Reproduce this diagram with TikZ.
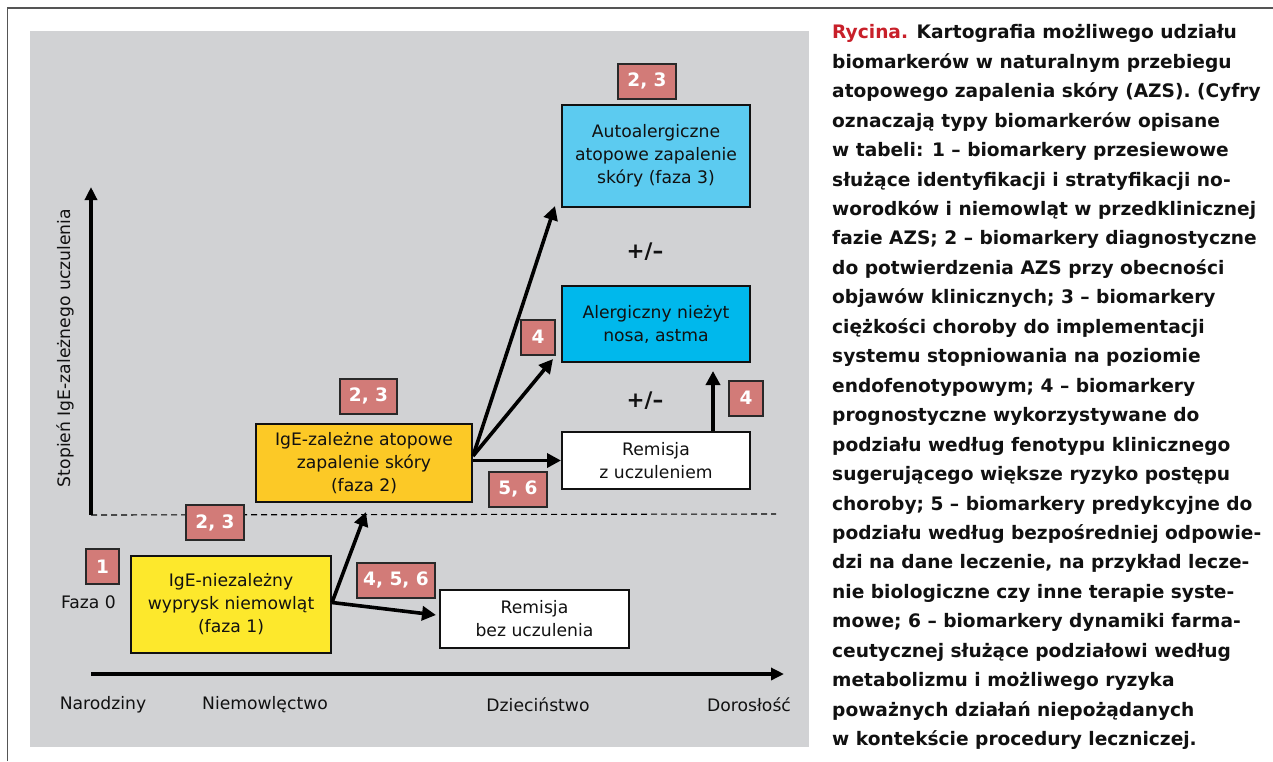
\documentclass[tikz,border=0pt]{standalone}
\usepackage{fontspec}
\setmainfont{DejaVu Sans}
\usetikzlibrary{arrows.meta,calc}
\definecolor{panel}{HTML}{D1D2D4}
\definecolor{yel}{HTML}{FDE82C}
\definecolor{ora}{HTML}{FCC926}
\definecolor{lblue}{HTML}{5CCBF0}
\definecolor{dblue}{HTML}{00B8EC}
\definecolor{badgec}{HTML}{D27B78}
\definecolor{redcap}{HTML}{C8202A}
\definecolor{framec}{HTML}{555555}
\definecolor{ink}{HTML}{111111}
\tikzset{
  box/.style={draw=ink, line width=2pt, align=center, inner sep=0pt,
    font=\fontsize{17.2}{23}\selectfont, text=ink},
  badge/.style={draw=ink!90, line width=2pt, fill=badgec, inner sep=0pt,
    text=white, font=\bfseries\fontsize{18.5}{20}\selectfont, minimum height=35pt},
  arr/.style={draw=black, line width=3.6pt,
    -{Triangle[length=14pt,width=14pt]}, shorten >=0pt},
  axis/.style={draw=black, line width=3.6pt, -{Triangle[length=13pt,width=12pt]}},
  lab/.style={font=\fontsize{17.2}{20}\selectfont, text=ink, inner sep=0pt},
  pm/.style={font=\bfseries\fontsize{21.5}{22}\selectfont, text=ink, inner sep=0pt}
}
\begin{document}
\begin{tikzpicture}[x=1pt,y=-1pt]
\useasboundingbox (0,0) rectangle (1273,761);
% frame
\draw[framec, line width=1.2pt] (7.5,761) -- (7.5,8) -- (1273,8);
% panel
\fill[panel] (30,31) rectangle (809,747);

% axes
\coordinate (origin) at (91,515);
\coordinate (ytip) at (91,187);
\coordinate (xorig) at (91,674);
\coordinate (xtip) at (784,674);
\coordinate (dashend) at (776,514);
\draw[black, line width=1.1pt, dash pattern=on 6pt off 4pt] (origin) -- (dashend);
\draw[axis] (origin) -- (ytip);
\draw[axis] (xorig) -- (xtip);

\node[lab, rotate=90] (ylab) at (65,348) {Stopień IgE-zależnego uczulenia};
\node[lab] (t0) at (103,705) {Narodziny};
\node[lab] (t1) at (265,705) {Niemowlęctwo};
\node[lab] (t2) at (538,705) {Dzieciństwo};
\node[lab] (t3) at (749,705) {Dorosłość};
\node[lab] (faza0) at (88.5,602) {Faza 0};

% boxes
\node[box, fill=yel, minimum width=200pt, minimum height=97pt] (f1) at (231,604.5)
  {IgE-niezależny\\wyprysk niemowląt\\(faza 1)};
\node[box, fill=ora, minimum width=216pt, minimum height=78pt] (f2) at (364,463)
  {IgE-zależne atopowe\\zapalenie skóry\\(faza 2)};
\node[box, fill=white, minimum width=189pt, minimum height=58pt] (rb) at (534.5,619)
  {Remisja\\bez uczulenia};
\node[box, fill=white, minimum width=188pt, minimum height=57pt] (rz) at (656,460.5)
  {Remisja\\z uczuleniem};
\node[box, fill=lblue, minimum width=188pt, minimum height=102pt] (f3) at (656,156)
  {Autoalergiczne\\atopowe zapalenie\\skóry (faza 3)};
\node[box, fill=dblue, minimum width=188pt, minimum height=76pt] (al) at (656,324)
  {Alergiczny nieżyt\\nosa, astma};

% badges
\node[badge, minimum width=33pt] (b1) at (102.5,566.5) {1};
\node[badge, minimum width=58pt] (b23a) at (215,522.5) {2, 3};
\node[badge, minimum width=57pt] (b23b) at (368.5,396) {2, 3};
\node[badge, minimum width=78pt] (b456) at (396,580) {4, 5, 6};
\node[badge, minimum width=58pt] (b56) at (518,489) {5, 6};
\node[badge, minimum width=58pt] (b23c) at (647,81) {2, 3};
\node[badge, minimum width=34pt] (b4a) at (538,337) {4};
\node[badge, minimum width=34pt] (b4b) at (746,398) {4};

% plus/minus
\node[pm] (pm1) at (645,252) {+/–};
\node[pm] (pm2) at (645,401) {+/–};

% connectors
\draw[arr] ([yshift=2pt]f1.east) -- ([xshift=2pt,yshift=-9pt]f2.south);
\draw[arr] ([yshift=2pt]f1.east) -- ([xshift=-3pt,yshift=4pt]rb.west);
\draw[arr] (f2.east |- rz.west) -- (rz.west);
\draw[arr] ([yshift=7pt]f2.east) -- ([xshift=-6pt,yshift=2pt]f3.south west);
\draw[arr] ([yshift=7pt]f2.east) -- ([xshift=-8pt,yshift=4pt]al.south west);
\draw[arr] ([xshift=57pt]rz.north) -- ([xshift=57pt,yshift=-8pt]al.south);

% caption
\node[anchor=north west, inner sep=0pt, align=left, text=ink,
  font=\bfseries\fontsize{18.6}{29.45}\selectfont] (cap) at (832,24.5)
{\textcolor{redcap}{Rycina.} Kartografia możliwego udziału\\
biomarkerów w naturalnym przebiegu\\
atopowego zapalenia skóry (AZS). (Cyfry\\
oznaczają typy biomarkerów opisane\\
w tabeli: 1 – biomarkery przesiewowe\\
służące identyfikacji i stratyfikacji no-\\
worodków i niemowląt w przedklinicznej\\
fazie AZS; 2 – biomarkery diagnostyczne\\
do potwierdzenia AZS przy obecności\\
objawów klinicznych; 3 – biomarkery\\
ciężkości choroby do implementacji\\
systemu stopniowania na poziomie\\
endofenotypowym; 4 – biomarkery\\
prognostyczne wykorzystywane do\\
podziału według fenotypu klinicznego\\
sugerującego większe ryzyko postępu\\
choroby; 5 – biomarkery predykcyjne do\\
podziału według bezpośredniej odpowie-\\
dzi na dane leczenie, na przykład lecze-\\
nie biologiczne czy inne terapie syste-\\
mowe; 6 – biomarkery dynamiki farma-\\
ceutycznej służące podziałowi według\\
metabolizmu i możliwego ryzyka\\
poważnych działań niepożądanych\\
w kontekście procedury leczniczej.};
\end{tikzpicture}
\end{document}
